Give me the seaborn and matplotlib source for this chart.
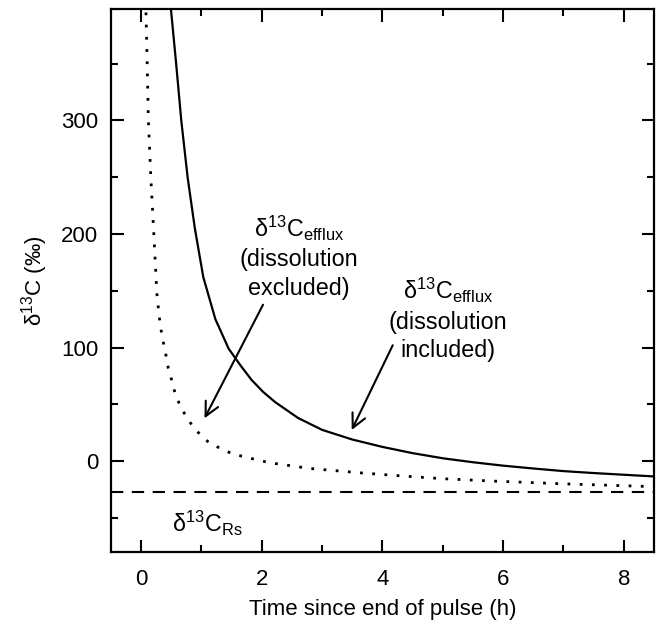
"""
Decay of the 13C signal in soil CO2 efflux after the label pulse,
with and without the dissolution term.
"""

import matplotlib
matplotlib.use("Agg")
import matplotlib.pyplot as plt
from matplotlib.ticker import MultipleLocator, FixedLocator
import pandas as pd
import seaborn as sns

# values
t_included = [0.49, 0.58, 0.665, 0.77, 0.89, 1.03, 1.23, 1.45, 1.65, 1.83, 2.02, 2.22,
              2.60, 3.00, 3.50, 4.00, 4.50, 5.00, 5.50, 6.00, 6.50, 7.00, 7.50, 8.00, 8.50]
d13c_included = [400, 350, 300, 250, 205, 162, 125, 99, 84, 71.5, 61, 52,
                 38, 27.5, 19, 12.5, 7, 2.5, -1, -4, -6.5, -8.8, -10.5, -12, -13.5]

t_excluded = [0.08, 0.10, 0.12, 0.16, 0.21, 0.26, 0.30, 0.33, 0.37, 0.41, 0.45, 0.51,
              0.57, 0.66, 0.78, 0.95, 1.13, 1.32, 1.53, 1.72, 1.93, 2.14, 2.80, 3.63,
              4.30, 5.00, 5.80, 7.00, 8.50]
d13c_excluded = [395, 350, 300, 250, 200, 148, 127, 115.6, 104, 93.6, 81.8, 70.6,
                 58, 47.4, 36, 25, 16, 11, 6, 3.8, 0.9, -1.5, -6.5, -10.3,
                 -13, -15.5, -17.5, -20, -22.5]

d13c_rs = -27
y_ticks = [0, 100, 200, 300]

# styling
sns.set_style("ticks")
plt.rcParams["font.family"] = ["Liberation Sans", "DejaVu Sans"]
plt.rcParams["mathtext.fontset"] = "custom"
plt.rcParams["mathtext.rm"] = "Liberation Sans"
plt.rcParams["mathtext.it"] = "Liberation Sans:italic"
plt.rcParams["mathtext.bf"] = "Liberation Sans:bold"
for key in ["text.color", "axes.labelcolor", "xtick.color", "ytick.color", "axes.edgecolor"]:
    plt.rcParams[key] = "black"
FS = 16
FS_NOTE = 16.8

df_inc = pd.DataFrame({"t": t_included, "d13c": d13c_included})
df_exc = pd.DataFrame({"t": t_excluded, "d13c": d13c_excluded})

fig = plt.figure(figsize=(6.59, 6.36), dpi=100)
ax = fig.add_axes([0.1684, 0.1321, 0.8240, 0.8537])

sns.lineplot(data=df_inc, x="t", y="d13c", ax=ax, color="black", lw=1.6,
             sort=False, estimator=None)
sns.lineplot(data=df_exc, x="t", y="d13c", ax=ax, color="black", lw=2.0,
             linestyle=(0, (1, 3.4)), sort=False, estimator=None)
ax.axhline(d13c_rs, color="black", lw=1.5, linestyle=(0, (5.9, 4.1)))

ax.set_xlim(-0.5, 8.5)
ax.set_ylim(-80, 398)
ax.xaxis.set_major_locator(MultipleLocator(2))
ax.xaxis.set_minor_locator(MultipleLocator(1))
ax.yaxis.set_major_locator(FixedLocator(y_ticks))
ax.yaxis.set_minor_locator(MultipleLocator(50))
ax.tick_params(which="both", direction="in", top=True, right=True,
               width=1.5, labelsize=FS)
ax.tick_params(which="major", length=9)
ax.tick_params(which="minor", length=5)
ax.tick_params(axis="x", which="major", pad=12)
ax.tick_params(axis="y", which="major", pad=9)
for sp in ax.spines.values():
    sp.set_linewidth(1.6)

ax.set_xlabel("Time since end of pulse (h)", fontsize=FS, labelpad=7)
ax.set_ylabel(r"$\mathrm{δ}^{13}\mathrm{C}$ (‰)", fontsize=FS, labelpad=8)

# annotations
ax.text(2.62, 180, "$\\mathrm{δ}^{13}\\mathrm{C}_{\\mathrm{efflux}}$\n(dissolution\nexcluded)",
        ha="center", va="center", fontsize=FS_NOTE, linespacing=1.3)
ax.text(5.08, 125, "$\\mathrm{δ}^{13}\\mathrm{C}_{\\mathrm{efflux}}$\n(dissolution\nincluded)",
        ha="center", va="center", fontsize=FS_NOTE, linespacing=1.3)
ax.text(1.09, -55, r"$\mathrm{δ}^{13}\mathrm{C}_{\mathrm{Rs}}$",
        ha="center", va="center", fontsize=FS_NOTE)

arrow = dict(arrowstyle="->,head_length=0.5,head_width=0.25", color="black",
             lw=1.5, shrinkA=0, shrinkB=0, mutation_scale=20)
ax.annotate("", xy=(1.05, 37.7), xytext=(2.02, 137.7), arrowprops=arrow)
ax.annotate("", xy=(3.49, 27.4), xytext=(4.17, 102), arrowprops=arrow)

fig.savefig("out.png", dpi=100)
